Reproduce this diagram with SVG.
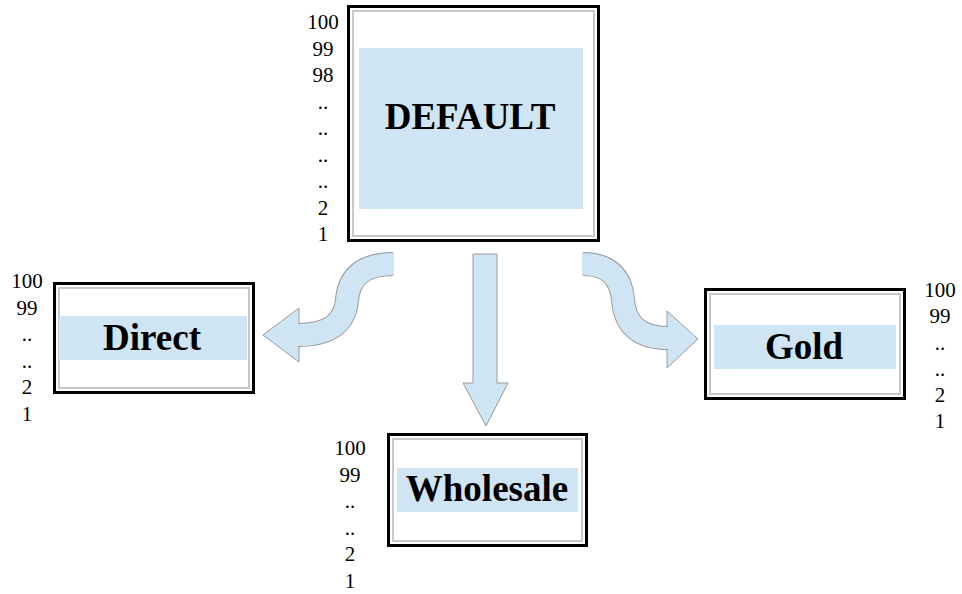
<svg xmlns="http://www.w3.org/2000/svg" width="962" height="594" viewBox="0 0 962 594">
<style>
.outer{fill:#fff;stroke:#000;stroke-width:3}
.inner{fill:none;stroke:#c8c8c8;stroke-width:2}
.band{fill:#cfe5f3}
.title{font-family:"Liberation Serif","Times New Roman",serif;font-weight:bold;font-size:37px;fill:#000;text-anchor:middle}
.num{font-family:"Liberation Serif","Times New Roman",serif;font-size:21px;fill:#000;text-anchor:middle}
.shaftO{fill:none;stroke:#9a9a9a;stroke-width:24;stroke-linecap:butt}
.shaftI{fill:none;stroke:#cfe5f3;stroke-width:22;stroke-linecap:butt}
.head{fill:#cfe5f3;stroke:#9a9a9a;stroke-width:1}
</style>
<rect width="962" height="594" fill="#fff"/>
<g id="connectors">
  <g id="arrow-direct">
    <polygon class="head" points="299,308 263,335 299,362"/>
    <path class="shaftO" d="M393,264 Q350,264 347,300 Q344,335 298,335"/>
    <path class="shaftI" d="M394,264 Q350,264 347,300 Q344,335 298,335"/>
  </g>
  <g id="arrow-wholesale">
    <polygon class="head" points="473,254 497,254 497,383 508,383 486,426 463,383 473,383 473,254"/>
  </g>
  <g id="arrow-gold">
    <polygon class="head" points="667,311 698,339 667,368"/>
    <path class="shaftO" d="M583,264 Q620,264 623,300 Q626,338 668,338"/>
    <path class="shaftI" d="M582,264 Q620,264 623,300 Q626,338 668,338"/>
  </g>
</g>
<g id="node-default">
  <rect class="outer" x="348.5" y="6.5" width="250" height="234"/>
  <rect class="inner" x="353" y="11" width="241" height="225"/>
  <rect class="band" x="359" y="48" width="224" height="161"/>
  <text class="title" x="470" y="129">DEFAULT</text>
  <g class="num">
    <text x="323" y="29">100</text>
    <text x="323" y="55.5">99</text>
    <text x="323" y="82">98</text>
    <text x="323" y="108.5">..</text>
    <text x="323" y="135">..</text>
    <text x="323" y="161.5">..</text>
    <text x="323" y="188">..</text>
    <text x="323" y="214.5">2</text>
    <text x="323" y="241">1</text>
  </g>
</g>
<g id="node-direct">
  <rect class="outer" x="54.5" y="283.5" width="199" height="109"/>
  <rect class="inner" x="59" y="288" width="190" height="100"/>
  <rect class="band" x="59" y="316" width="188" height="44"/>
  <text class="title" x="152" y="350">Direct</text>
  <g class="num">
    <text x="27" y="288">100</text>
    <text x="27" y="314.5">99</text>
    <text x="27" y="341">..</text>
    <text x="27" y="367.5">..</text>
    <text x="27" y="394">2</text>
    <text x="27" y="420.5">1</text>
  </g>
</g>
<g id="node-wholesale">
  <rect class="outer" x="388.5" y="434.5" width="198" height="111"/>
  <rect class="inner" x="393" y="439" width="189" height="102"/>
  <rect class="band" x="397" y="468" width="181" height="44"/>
  <text class="title" x="487" y="501">Wholesale</text>
  <g class="num">
    <text x="350" y="455">100</text>
    <text x="350" y="481.5">99</text>
    <text x="350" y="508">..</text>
    <text x="350" y="534.5">..</text>
    <text x="350" y="561">2</text>
    <text x="350" y="587.5">1</text>
  </g>
</g>
<g id="node-gold">
  <rect class="outer" x="705.5" y="289.5" width="199" height="109"/>
  <rect class="inner" x="710" y="294" width="190" height="100"/>
  <rect class="band" x="714" y="325" width="182" height="44"/>
  <text class="title" x="804" y="359">Gold</text>
  <g class="num">
    <text x="940" y="297">100</text>
    <text x="940" y="323">99</text>
    <text x="940" y="349.5">..</text>
    <text x="940" y="376">..</text>
    <text x="940" y="402">2</text>
    <text x="940" y="428">1</text>
  </g>
</g>
</svg>
